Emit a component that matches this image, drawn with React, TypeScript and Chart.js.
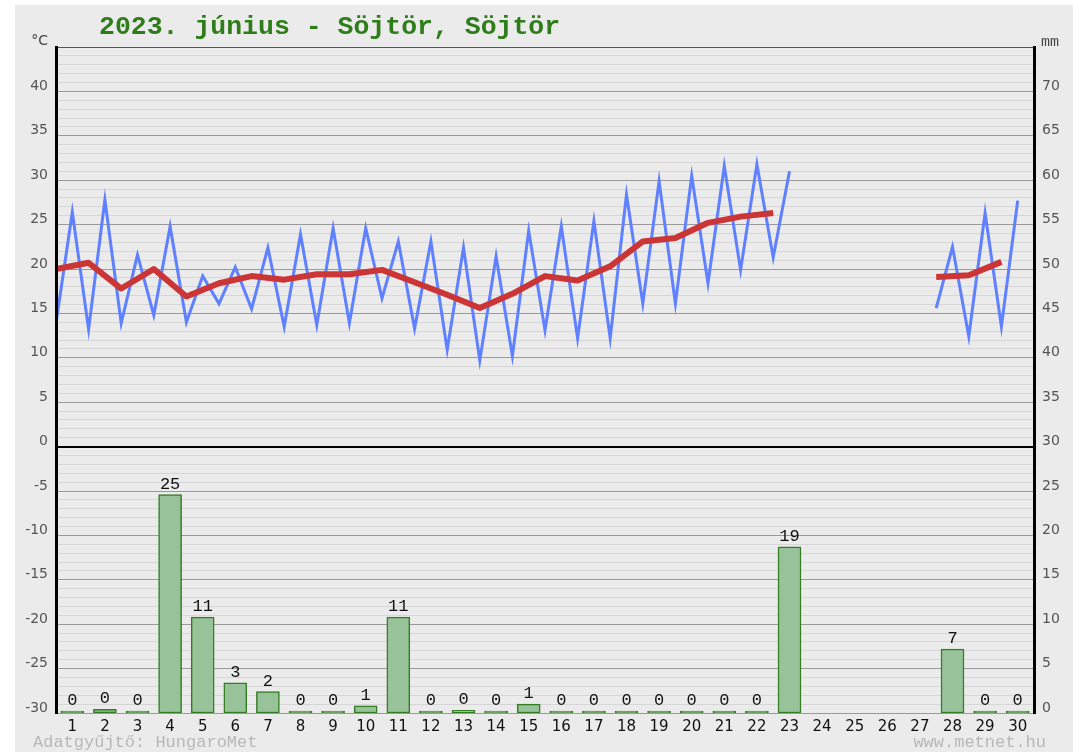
import React, { useEffect, useRef } from 'react';
import { Chart, registerables } from 'chart.js';

Chart.register(...registerables);

const title = '2023. június - Söjtör, Söjtör';
const footerLeft = 'Adatgyűjtő: HungaroMet';
const footerRight = 'www.metnet.hu';

const days = [1, 2, 3, 4, 5, 6, 7, 8, 9, 10, 11, 12, 13, 14, 15, 16, 17, 18, 19, 20, 21, 22, 23, 24, 25, 26, 27, 28, 29, 30];

const tMax = [26.4, 27.8, 21.6, 24.8, 19.2, 20.2, 22.4, 23.9, 24.6, 24.6, 23.1, 23.1, 22.4, 21.4, 24.3, 24.8, 25.4, 28.4, 29.9, 30.5, 31.6, 31.8, 31.0, null, null, null, null, 22.5, 26.3, 27.7];
const tMin = [13.9, 13.2, 13.9, 14.8, 14.0, 16.1, 15.5, 13.5, 13.7, 13.9, 16.7, 13.3, 10.9, 9.7, 10.2, 13.1, 12.2, 12.2, 16.1, 16.1, 18.4, 19.9, 21.3, null, null, null, null, 15.6, 12.4, 13.5];
const tMean = [20.0, 20.7, 17.8, 20.0, 16.9, 18.4, 19.2, 18.8, 19.4, 19.4, 19.9, 18.5, 17.1, 15.6, 17.2, 19.2, 18.7, 20.3, 23.1, 23.5, 25.2, 25.9, 26.3, null, null, null, null, 19.1, 19.3, 20.8];
const precip = [0, 0.4, 0, 24.6, 10.8, 3.4, 2.4, 0, 0, 0.8, 10.8, 0, 0.3, 0, 1.0, 0, 0, 0, 0, 0, 0, 0, 18.7, null, null, null, null, 7.2, 0, 0];

const tempTicks = [-30, -25, -20, -15, -10, -5, 0, 5, 10, 15, 20, 25, 30, 35, 40];
const mmTicks = [0, 5, 10, 15, 20, 25, 30, 35, 40, 45, 50, 55, 60, 65, 70];

const W = 1073;
const H = 752;

export default function App() {
  const ref = useRef<HTMLCanvasElement>(null);

  useEffect(() => {
    const canvas = ref.current;
    if (!canvas) return;

    const blue: { x: number; y: number | null }[] = [];
    days.forEach((d, i) => {
      if (tMin[i] == null || tMax[i] == null) {
        blue.push({ x: d, y: null });
      } else {
        blue.push({ x: d - 0.5, y: tMin[i] as number });
        blue.push({ x: d, y: tMax[i] as number });
      }
    });
    const red = days.map((d, i) => ({ x: d - 0.5, y: tMean[i] }));
    const bars = days.map((d, i) => ({ x: d, y: precip[i] }));

    const bgPlugin = {
      id: 'bg',
      beforeDraw(chart: any) {
        const c = chart.ctx;
        c.save();
        c.fillStyle = '#ffffff';
        c.fillRect(0, 0, W, H);
        c.fillStyle = '#ebebeb';
        c.fillRect(15, 5, W - 15, H - 5);
        c.restore();
      },
    };

    const framePlugin = {
      id: 'frame',
      afterDatasetsDraw(chart: any) {
        const c = chart.ctx;
        const a = chart.chartArea;
        c.save();
        c.strokeStyle = '#000';
        c.lineWidth = 3;
        c.beginPath();
        c.moveTo(a.left + 0.5, a.top - 1);
        c.lineTo(a.left + 0.5, a.bottom + 1);
        c.moveTo(a.right + 0.5, a.top - 1);
        c.lineTo(a.right + 0.5, a.bottom + 1);
        c.stroke();

        // bar value labels
        const meta = chart.getDatasetMeta(0);
        c.fillStyle = '#111';
        c.font = '17px "Liberation Mono", monospace';
        c.textAlign = 'center';
        c.textBaseline = 'alphabetic';
        meta.data.forEach((el: any, i: number) => {
          const v = precip[i];
          if (v == null) return;
          c.fillText(String(Math.round(v)), el.x, Math.min(el.y, a.bottom - 1) - 6);
        });
        c.restore();
      },
    };

    const textPlugin = {
      id: 'texts',
      afterDraw(chart: any) {
        const c = chart.ctx;
        c.save();
        c.fillStyle = '#2e7d1a';
        c.font = 'bold 26.5px "Liberation Mono", monospace';
        c.textAlign = 'left';
        c.textBaseline = 'alphabetic';
        c.fillText(title, 99, 34);

        c.fillStyle = '#444';
        c.font = '14px "DejaVu Sans", sans-serif';
        c.textAlign = 'right';
        c.fillText('°C', 48, 45);
        c.font = '15px "Liberation Mono", monospace';
        c.textAlign = 'left';
        c.fillText('mm', 1041, 46);

        c.fillStyle = '#b8b8b8';
        c.font = '17px "Liberation Mono", monospace';
        c.textAlign = 'left';
        c.fillText(footerLeft, 33, 747);
        c.textAlign = 'right';
        c.fillText(footerRight, 1046, 747);
        c.restore();
      },
    };

    const chart = new Chart(canvas, {
      type: 'bar',
      data: {
        datasets: [
          {
            type: 'bar',
            data: bars as any,
            xAxisID: 'x',
            yAxisID: 'y2',
            backgroundColor: 'rgb(152,194,154)',
            borderColor: 'rgb(52,125,34)',
            borderWidth: 1.5,
            borderSkipped: false,
            barThickness: 23,
            minBarLength: 2,
            order: 3,
          },
          {
            type: 'line',
            data: blue as any,
            xAxisID: 'x',
            yAxisID: 'y',
            borderColor: '#5f80ff',
            borderWidth: 3,
            pointRadius: 0,
            tension: 0,
            spanGaps: false,
            order: 2,
          },
          {
            type: 'line',
            data: red as any,
            xAxisID: 'x',
            yAxisID: 'y',
            borderColor: '#cc3535',
            borderWidth: 6,
            borderCapStyle: 'butt',
            borderJoinStyle: 'round',
            pointRadius: 0,
            tension: 0,
            spanGaps: false,
            order: 1,
          },
        ],
      },
      options: {
        responsive: false,
        animation: false,
        devicePixelRatio: 1,
        layout: { padding: { top: 47, left: 0, right: 0, bottom: 0 } },
        plugins: {
          legend: { display: false },
          tooltip: { enabled: false },
          title: { display: false },
        },
        scales: {
          x: {
            type: 'linear',
            min: 0.5,
            max: 30.5,
            offset: false,
            grid: { display: false, drawTicks: false },
            border: { display: false },
            afterBuildTicks(scale: any) {
              scale.ticks = days.map((d) => ({ value: d }));
            },
            afterFit(scale: any) {
              scale.height = 39;
            },
            ticks: {
              autoSkip: false,
              maxRotation: 0,
              padding: 5,
              color: '#111',
              font: { family: '"DejaVu Sans", sans-serif', size: 15 },
              callback: (v: any) => String(v),
            },
          },
          y: {
            type: 'linear',
            position: 'left',
            min: -30,
            max: 45,
            border: { display: false },
            afterBuildTicks(scale: any) {
              const t = [];
              for (let v = -30; v <= 45; v++) t.push({ value: v });
              scale.ticks = t;
            },
            afterFit(scale: any) {
              scale.width = 56;
            },
            grid: {
              drawTicks: false,
              color: (ctx: any) => {
                const v = ctx.tick ? ctx.tick.value : 0;
                if (v === 0) return '#000';
                if (v === 45) return '#555';
                return v % 5 === 0 ? '#9a9a9a' : '#d6d6d6';
              },
              lineWidth: (ctx: any) => {
                const v = ctx.tick ? ctx.tick.value : 0;
                if (v === 0) return 2;
                return 1;
              },
            },
            ticks: {
              autoSkip: false,
              padding: 8,
              labelOffset: -5,
              color: '#555',
              font: { family: '"DejaVu Sans", sans-serif', size: 14 },
              callback: (v: any) => (tempTicks.includes(v) ? String(v) : ''),
            },
          },
          y2: {
            type: 'linear',
            position: 'right',
            min: 0,
            max: 75,
            border: { display: false },
            grid: { display: false, drawTicks: false },
            afterBuildTicks(scale: any) {
              scale.ticks = mmTicks.map((v) => ({ value: v }));
            },
            afterFit(scale: any) {
              scale.width = 39;
            },
            ticks: {
              autoSkip: false,
              padding: 8,
              labelOffset: -5,
              color: '#555',
              font: { family: '"DejaVu Sans", sans-serif', size: 14 },
              callback: (v: any) => String(v),
            },
          },
        },
      } as any,
      plugins: [bgPlugin, framePlugin, textPlugin],
    });

    return () => chart.destroy();
  }, []);

  return (
    <div style={{ position: 'fixed', left: 0, top: 0, width: W, height: H }}>
      <canvas ref={ref} width={W} height={H} style={{ width: W, height: H, display: 'block' }} />
    </div>
  );
}
